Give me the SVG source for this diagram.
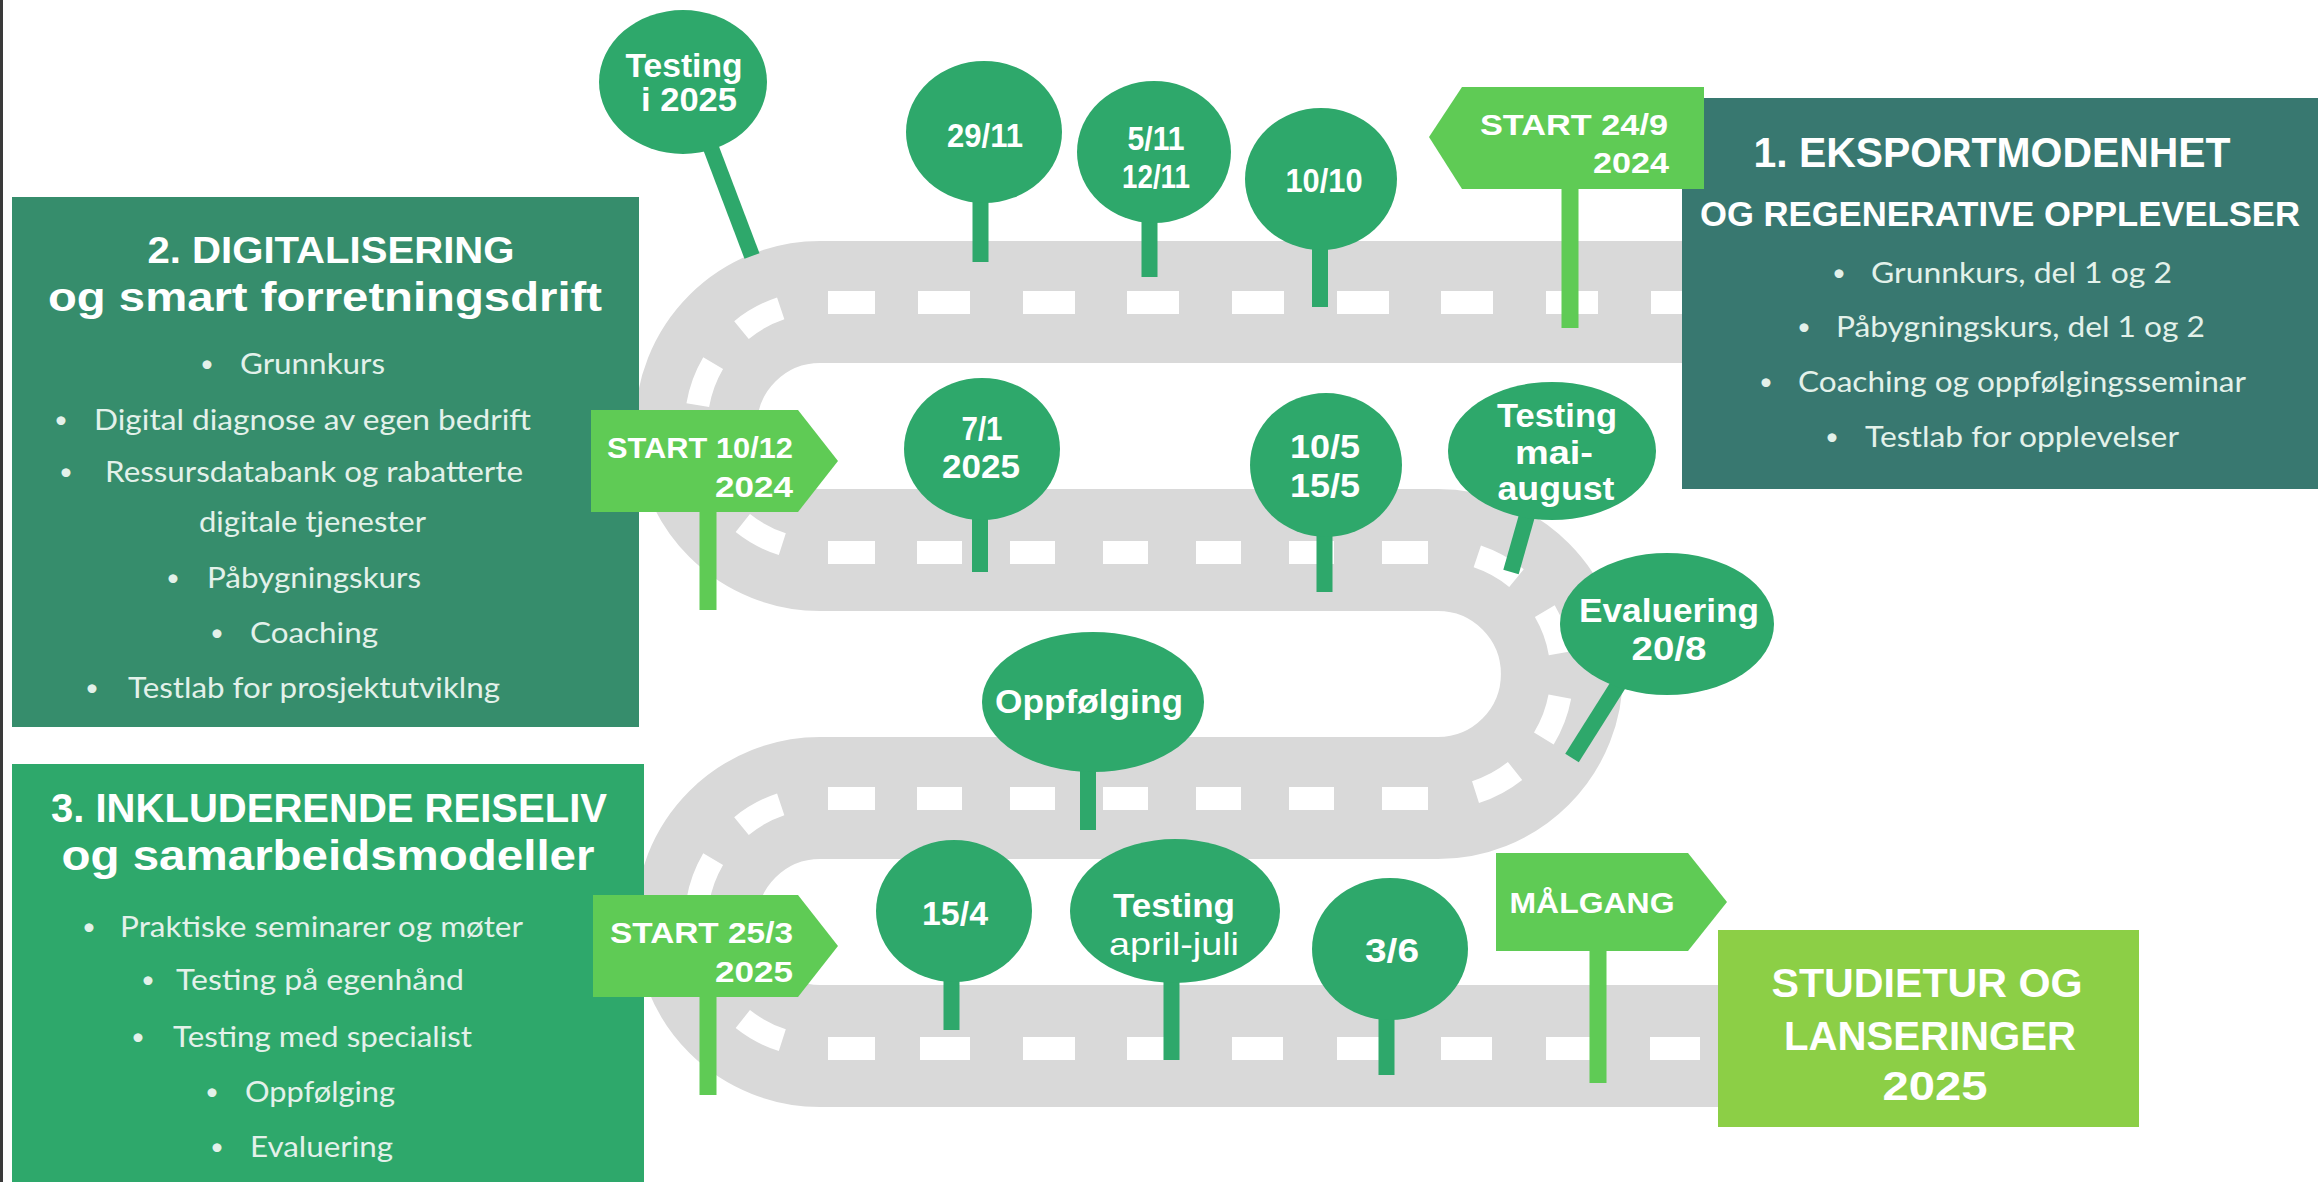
<svg xmlns="http://www.w3.org/2000/svg" width="2318" height="1182" viewBox="0 0 2318 1182">
<style>
.road{fill:none;stroke:#d9d9d9;stroke-width:122}
.dash{fill:#ffffff}
.arcdash{fill:none;stroke:#ffffff;stroke-width:23;stroke-dasharray:45 43.7;stroke-dashoffset:48.7}
.pin{fill:#2ea86b}
.stem{stroke:#2ea86b;stroke-width:16;stroke-linecap:butt}
.sign{fill:#5fcb55}
.sstem{stroke:#5fcb55;stroke-width:17}
.tp{font-family:"Liberation Sans",Arial,sans-serif;font-weight:700;font-size:34px;fill:#ffffff;text-anchor:middle}
.tpr{font-family:"Liberation Sans",Arial,sans-serif;font-weight:400;font-size:32px;fill:#ffffff;text-anchor:middle}
.ts{font-family:"Liberation Sans",Arial,sans-serif;font-weight:700;font-size:30px;fill:#ffffff}
.th{font-family:"Liberation Sans",Arial,sans-serif;font-weight:700;fill:#ffffff;text-anchor:middle}
.tb{font-family:Lato,"Liberation Sans",sans-serif;font-weight:400;font-size:29px;fill:#e3f1ea}
.bul{font-family:Lato,"Liberation Sans",sans-serif;font-size:24px;fill:#e3f1ea;text-anchor:middle}
</style>
<rect x="0" y="0" width="2318" height="1182" fill="#ffffff"/>
<rect x="0" y="0" width="3" height="1182" fill="#3a3a3a"/>

<g id="connectors">
<path class="road" d="M1700 302 H820 A124 124 0 0 0 820 550 H1438 A124 124 0 0 1 1438 798 H820 A124 124 0 0 0 820 1046 H1720"/>
<g id="centerline">
<rect class="dash" x="828" y="291" width="47" height="23"/>
<rect class="dash" x="918" y="291" width="52" height="23"/>
<rect class="dash" x="1023" y="291" width="52" height="23"/>
<rect class="dash" x="1127" y="291" width="52" height="23"/>
<rect class="dash" x="1232" y="291" width="52" height="23"/>
<rect class="dash" x="1337" y="291" width="52" height="23"/>
<rect class="dash" x="1441" y="291" width="52" height="23"/>
<rect class="dash" x="1546" y="291" width="52" height="23"/>
<rect class="dash" x="1651" y="291" width="52" height="23"/>
<path class="arcdash" d="M820 302 A124 124 0 0 0 820 550"/>
<rect class="dash" x="828" y="541" width="47" height="23"/>
<rect class="dash" x="917" y="541" width="45" height="23"/>
<rect class="dash" x="1010" y="541" width="45" height="23"/>
<rect class="dash" x="1103" y="541" width="45" height="23"/>
<rect class="dash" x="1196" y="541" width="45" height="23"/>
<rect class="dash" x="1289" y="541" width="45" height="23"/>
<rect class="dash" x="1382" y="541" width="46" height="23"/>
<path class="arcdash" d="M1438 550 A124 124 0 0 1 1438 798"/>
<rect class="dash" x="828" y="787" width="47" height="23"/>
<rect class="dash" x="917" y="787" width="45" height="23"/>
<rect class="dash" x="1010" y="787" width="45" height="23"/>
<rect class="dash" x="1103" y="787" width="45" height="23"/>
<rect class="dash" x="1196" y="787" width="45" height="23"/>
<rect class="dash" x="1289" y="787" width="45" height="23"/>
<rect class="dash" x="1382" y="787" width="46" height="23"/>
<path class="arcdash" d="M820 798 A124 124 0 0 0 820 1046"/>
<rect class="dash" x="828" y="1037" width="47" height="23"/>
<rect class="dash" x="920" y="1037" width="50" height="23"/>
<rect class="dash" x="1023" y="1037" width="52" height="23"/>
<rect class="dash" x="1127" y="1037" width="51" height="23"/>
<rect class="dash" x="1232" y="1037" width="51" height="23"/>
<rect class="dash" x="1337" y="1037" width="51" height="23"/>
<rect class="dash" x="1441" y="1037" width="51" height="23"/>
<rect class="dash" x="1546" y="1037" width="50" height="23"/>
<rect class="dash" x="1650" y="1037" width="50" height="23"/>
</g>
</g>

<g id="box1">
<rect x="1682" y="98" width="636" height="391" fill="#387870"/>
<text class="th" x="1992" y="167" font-size="42" textLength="477" lengthAdjust="spacingAndGlyphs">1. EKSPORTMODENHET</text>
<text class="th" x="2000" y="226" font-size="35" textLength="600" lengthAdjust="spacingAndGlyphs">OG REGENERATIVE OPPLEVELSER</text>
<text class="bul" x="1839" y="281">•</text><text class="tb" x="1871" y="283" textLength="301" lengthAdjust="spacingAndGlyphs">Grunnkurs, del 1 og 2</text>
<text class="bul" x="1804" y="335">•</text><text class="tb" x="1836" y="337" textLength="369" lengthAdjust="spacingAndGlyphs">Påbygningskurs, del 1 og 2</text>
<text class="bul" x="1766" y="390">•</text><text class="tb" x="1798" y="392" textLength="448" lengthAdjust="spacingAndGlyphs">Coaching og oppfølgingsseminar</text>
<text class="bul" x="1832" y="445">•</text><text class="tb" x="1865" y="447" textLength="314" lengthAdjust="spacingAndGlyphs">Testlab for opplevelser</text>
</g>

<g id="box2">
<rect x="12" y="197" width="627" height="530" fill="#368d6c"/>
<text class="th" x="331" y="263" font-size="37" textLength="367" lengthAdjust="spacingAndGlyphs">2. DIGITALISERING</text>
<text class="th" x="325" y="311" font-size="40" textLength="554" lengthAdjust="spacingAndGlyphs">og smart forretningsdrift</text>
<text class="bul" x="207" y="372">•</text><text class="tb" x="240" y="374" textLength="145" lengthAdjust="spacingAndGlyphs">Grunnkurs</text>
<text class="bul" x="61" y="428">•</text><text class="tb" x="94" y="430" textLength="437" lengthAdjust="spacingAndGlyphs">Digital diagnose av egen bedrift</text>
<text class="bul" x="66" y="480">•</text><text class="tb" x="105" y="482" textLength="418" lengthAdjust="spacingAndGlyphs">Ressursdatabank og rabatterte</text>
<text class="tb" x="199" y="532" textLength="227" lengthAdjust="spacingAndGlyphs">digitale tjenester</text>
<text class="bul" x="173" y="586">•</text><text class="tb" x="207" y="588" textLength="214" lengthAdjust="spacingAndGlyphs">Påbygningskurs</text>
<text class="bul" x="217" y="641">•</text><text class="tb" x="250" y="643" textLength="128" lengthAdjust="spacingAndGlyphs">Coaching</text>
<text class="bul" x="92" y="696">•</text><text class="tb" x="128" y="698" textLength="372" lengthAdjust="spacingAndGlyphs">Testlab for prosjektutviklng</text>
</g>

<g id="box3">
<rect x="12" y="764" width="632" height="418" fill="#2ea86b"/>
<text class="th" x="329" y="822" font-size="40" textLength="556" lengthAdjust="spacingAndGlyphs">3. INKLUDERENDE REISELIV</text>
<text class="th" x="328" y="870" font-size="42" textLength="533" lengthAdjust="spacingAndGlyphs">og samarbeidsmodeller</text>
<text class="bul" x="89" y="935">•</text><text class="tb" x="120" y="937" textLength="403" lengthAdjust="spacingAndGlyphs">Praktiske seminarer og møter</text>
<text class="bul" x="148" y="988">•</text><text class="tb" x="176" y="990" textLength="288" lengthAdjust="spacingAndGlyphs">Testing på egenhånd</text>
<text class="bul" x="138" y="1045">•</text><text class="tb" x="173" y="1047" textLength="299" lengthAdjust="spacingAndGlyphs">Testing med specialist</text>
<text class="bul" x="212" y="1100">•</text><text class="tb" x="245" y="1102" textLength="150" lengthAdjust="spacingAndGlyphs">Oppfølging</text>
<text class="bul" x="217" y="1155">•</text><text class="tb" x="250" y="1157" textLength="143" lengthAdjust="spacingAndGlyphs">Evaluering</text>
</g>

<g id="box-studietur">
<rect x="1718" y="930" width="421" height="197" fill="#8ccf46"/>
<text class="th" x="1927" y="997" font-size="40" textLength="311" lengthAdjust="spacingAndGlyphs">STUDIETUR OG</text>
<text class="th" x="1930" y="1050" font-size="40" textLength="292" lengthAdjust="spacingAndGlyphs">LANSERINGER</text>
<text class="th" x="1935" y="1100" font-size="40" textLength="105" lengthAdjust="spacingAndGlyphs">2025</text>
</g>

<g id="pin-testing-2025">
<line class="stem" x1="708" y1="140" x2="752" y2="256"/>
<ellipse class="pin" cx="683" cy="82" rx="84" ry="72"/>
<text class="tp" x="684" y="77" font-size="31" textLength="117" lengthAdjust="spacingAndGlyphs">Testing</text>
<text class="tp" x="689" y="111" font-size="31" textLength="96" lengthAdjust="spacingAndGlyphs">i 2025</text>
</g>
<g id="pin-29-11">
<line class="stem" x1="980.5" y1="190" x2="980.5" y2="262"/>
<ellipse class="pin" cx="984" cy="132" rx="78" ry="71"/>
<text class="tp" x="985" y="147" textLength="76" lengthAdjust="spacingAndGlyphs">29/11</text>
</g>
<g id="pin-5-11">
<line class="stem" x1="1149.5" y1="210" x2="1149.5" y2="277"/>
<ellipse class="pin" cx="1154" cy="152" rx="77" ry="71"/>
<text class="tp" x="1156" y="150" textLength="57" lengthAdjust="spacingAndGlyphs">5/11</text>
<text class="tp" x="1156" y="188" textLength="68" lengthAdjust="spacingAndGlyphs">12/11</text>
</g>
<g id="pin-10-10">
<line class="stem" x1="1320" y1="230" x2="1320" y2="307"/>
<ellipse class="pin" cx="1321" cy="179" rx="76" ry="71"/>
<text class="tp" x="1324" y="192" textLength="77" lengthAdjust="spacingAndGlyphs">10/10</text>
</g>
<g id="pin-7-1">
<line class="stem" x1="980" y1="500" x2="980" y2="572"/>
<ellipse class="pin" cx="982" cy="449" rx="78" ry="71"/>
<text class="tp" x="982" y="440" textLength="41" lengthAdjust="spacingAndGlyphs">7/1</text>
<text class="tp" x="981" y="478" textLength="78" lengthAdjust="spacingAndGlyphs">2025</text>
</g>
<g id="pin-10-5">
<line class="stem" x1="1324.5" y1="520" x2="1324.5" y2="592"/>
<ellipse class="pin" cx="1326" cy="465" rx="76" ry="72"/>
<text class="tp" x="1325" y="458" textLength="70" lengthAdjust="spacingAndGlyphs">10/5</text>
<text class="tp" x="1325" y="497" textLength="70" lengthAdjust="spacingAndGlyphs">15/5</text>
</g>
<g id="pin-testing-mai">
<line class="stem" x1="1530" y1="505" x2="1511" y2="572"/>
<ellipse class="pin" cx="1552" cy="451" rx="104" ry="69"/>
<text class="tp" x="1557" y="427" textLength="120" lengthAdjust="spacingAndGlyphs">Testing</text>
<text class="tp" x="1554" y="464" textLength="78" lengthAdjust="spacingAndGlyphs">mai-</text>
<text class="tp" x="1556" y="500" textLength="117" lengthAdjust="spacingAndGlyphs">august</text>
</g>
<g id="pin-evaluering">
<line class="stem" x1="1620" y1="682" x2="1572" y2="758"/>
<ellipse class="pin" cx="1667" cy="624" rx="107" ry="71"/>
<text class="tp" x="1669" y="622" textLength="180" lengthAdjust="spacingAndGlyphs">Evaluering</text>
<text class="tp" x="1669" y="660" textLength="75" lengthAdjust="spacingAndGlyphs">20/8</text>
</g>
<g id="pin-oppfolging">
<line class="stem" x1="1088" y1="750" x2="1088" y2="830"/>
<ellipse class="pin" cx="1093" cy="702" rx="111" ry="70"/>
<text class="tp" x="1089" y="713" textLength="188" lengthAdjust="spacingAndGlyphs">Oppfølging</text>
</g>
<g id="pin-15-4">
<line class="stem" x1="951.5" y1="960" x2="951.5" y2="1030"/>
<ellipse class="pin" cx="954" cy="911" rx="78" ry="71"/>
<text class="tp" x="955" y="925" textLength="66" lengthAdjust="spacingAndGlyphs">15/4</text>
</g>
<g id="pin-testing-april">
<line class="stem" x1="1171.5" y1="960" x2="1171.5" y2="1060"/>
<ellipse class="pin" cx="1175" cy="911" rx="105" ry="72"/>
<text class="tp" x="1174" y="917" textLength="122" lengthAdjust="spacingAndGlyphs">Testing</text>
<text class="tpr" x="1174" y="955" textLength="130" lengthAdjust="spacingAndGlyphs">april-juli</text>
</g>
<g id="pin-3-6">
<line class="stem" x1="1386.5" y1="1000" x2="1386.5" y2="1075"/>
<ellipse class="pin" cx="1390" cy="949" rx="78" ry="71"/>
<text class="tp" x="1392" y="962" textLength="54" lengthAdjust="spacingAndGlyphs">3/6</text>
</g>

<g id="sign-start-24-9">
<line class="sstem" x1="1570" y1="185" x2="1570" y2="328"/>
<polygon class="sign" points="1429,137 1462,87 1704,87 1704,189 1462,189"/>
<text class="ts" x="1668" y="135" text-anchor="end" textLength="188" lengthAdjust="spacingAndGlyphs">START 24/9</text>
<text class="ts" x="1669" y="173" text-anchor="end" textLength="76" lengthAdjust="spacingAndGlyphs">2024</text>
</g>
<g id="sign-start-10-12">
<line class="sstem" x1="708" y1="505" x2="708" y2="610"/>
<polygon class="sign" points="591,410 798,410 838,461 798,512 591,512"/>
<text class="ts" x="793" y="458" text-anchor="end" textLength="186" lengthAdjust="spacingAndGlyphs">START 10/12</text>
<text class="ts" x="793" y="497" text-anchor="end" textLength="78" lengthAdjust="spacingAndGlyphs">2024</text>
</g>
<g id="sign-start-25-3">
<line class="sstem" x1="708" y1="990" x2="708" y2="1095"/>
<polygon class="sign" points="593,895 798,895 838,946 798,997 593,997"/>
<text class="ts" x="793" y="943" text-anchor="end" textLength="183" lengthAdjust="spacingAndGlyphs">START 25/3</text>
<text class="ts" x="793" y="982" text-anchor="end" textLength="78" lengthAdjust="spacingAndGlyphs">2025</text>
</g>
<g id="sign-malgang">
<line class="sstem" x1="1598" y1="945" x2="1598" y2="1083"/>
<polygon class="sign" points="1496,853 1688,853 1727,902 1688,951 1496,951"/>
<text class="ts" x="1592" y="913" text-anchor="middle" textLength="165" lengthAdjust="spacingAndGlyphs">MÅLGANG</text>
</g>
</svg>
